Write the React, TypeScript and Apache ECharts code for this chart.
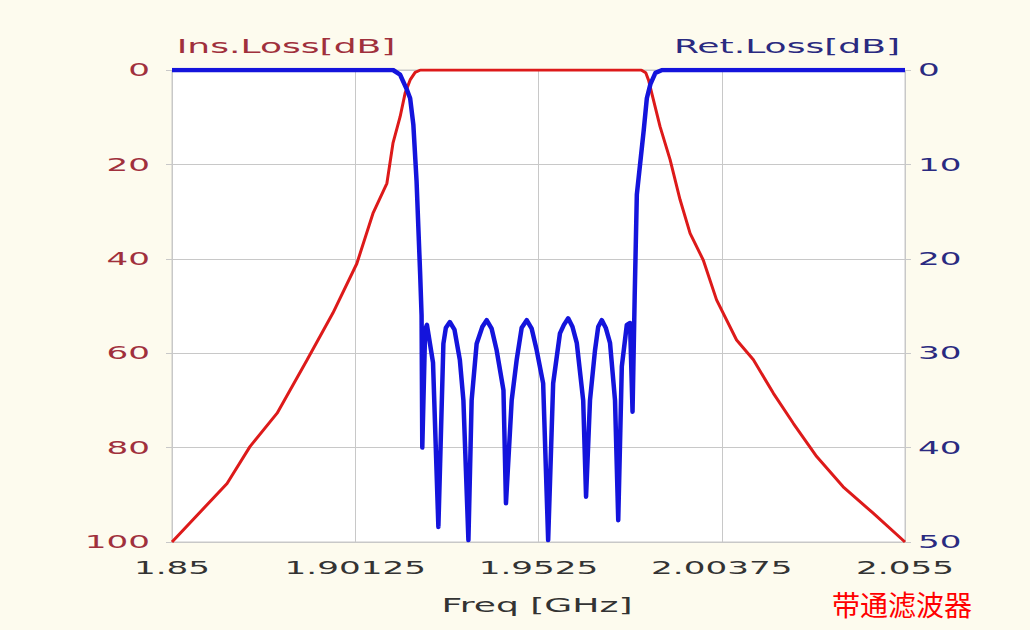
import React, { useEffect, useRef } from "react";
import * as echarts from "echarts";

// Axis ticks
const FREQ_TICKS = [1.85, 1.90125, 1.9525, 2.00375, 2.055];
const FREQ_TICK_LABELS = ["1.85", "1.90125", "1.9525", "2.00375", "2.055"];
const INS_TICKS = [0, 20, 40, 60, 80, 100];
const RET_TICKS = [0, 10, 20, 30, 40, 50];

// Insertion loss (left axis, dB)
const insFreq = [
  1.85, 1.8654, 1.8718, 1.8794, 1.8878, 1.895, 1.9017, 1.9062, 1.9101, 1.9118,
  1.9138, 1.9152, 1.9166, 1.918, 1.9195, 1.9812, 1.9825, 1.9833, 1.9844, 1.9865,
  1.9893, 1.9921, 1.9949, 1.9986, 2.0023, 2.0079, 2.0126, 2.0182, 2.0238, 2.0303,
  2.0377, 2.0461, 2.055,
];
const insLoss = [
  100, 87.6, 79.8, 72.7, 61.4, 51.5, 41.0, 30.4, 24.0, 15.5,
  9.9, 4.9, 2.1, 0.5, 0, 0, 0.6, 2.2, 5.6, 12,
  19, 27.5, 34.6, 40.3, 48.7, 57.2, 61.4, 68.5, 74.9, 81.9,
  88.3, 93.9, 100,
];

// Return loss (right axis, dB)
const retFreq = [
  1.85, 1.9118, 1.9138, 1.9156, 1.9166, 1.9175, 1.9184, 1.9194, 1.9198, 1.92,
  1.9208, 1.9213, 1.923, 1.9245, 1.9259, 1.9266, 1.9277, 1.929, 1.9305, 1.9315,
  1.9329, 1.9338, 1.9352, 1.9368, 1.938, 1.9394, 1.9408, 1.9427, 1.9434, 1.945,
  1.9464, 1.9478, 1.9492, 1.9506, 1.952, 1.9538, 1.9552, 1.9566, 1.9585, 1.9596,
  1.9608, 1.962, 1.9632, 1.965, 1.9658, 1.9669, 1.9683, 1.9692, 1.9702, 1.9713,
  1.9725, 1.9739, 1.9748, 1.9758, 1.9772, 1.9781, 1.9788, 1.9794, 1.98, 1.9809,
  1.9819, 1.9828, 1.9838, 1.9852, 1.9871, 2.055,
];
const retLoss = [
  0, 0, 0.5, 2, 3, 5.8, 11.8, 21.6, 26, 40,
  27.5, 27, 31, 48.4, 29, 27.3, 26.7, 27.5, 30.7, 35,
  49.8, 35, 29, 27.2, 26.5, 27.4, 29.7, 33.9, 45.9, 35,
  30.7, 27.3, 26.5, 27.4, 29.7, 33.2, 49.8, 33.2, 27.9, 27.0,
  26.3, 27.2, 28.9, 35, 45.2, 35, 29.7, 27.2, 26.5, 27.3,
  28.9, 35, 47.7, 31.4, 27, 26.8, 36.2, 24, 13.2, 10,
  6.5, 3, 1.5, 0.3, 0, 0,
];

const INS_COLOR = "#a0303c";
const RET_COLOR = "#2a2a80";
const GRID_COLOR = "#c8c8c8";
const FONT = "DejaVu Sans";

export default function App() {
  const ref = useRef<HTMLDivElement>(null);

  useEffect(() => {
    if (!ref.current) return;
    const chart = echarts.init(ref.current, null, { renderer: "svg" });
    const option: any = {
      animation: false,
      backgroundColor: "#fdfbee",
      grid: {
        left: 172,
        right: 125,
        top: 70,
        bottom: 88,
        show: true,
        backgroundColor: "#ffffff",
        borderColor: GRID_COLOR,
        borderWidth: 1,
      },
      xAxis: {
        type: "value",
        min: 1.85,
        max: 2.055,
        axisLine: { show: false },
        axisTick: {
          show: true,
          length: 6,
          customValues: FREQ_TICKS,
          lineStyle: { color: GRID_COLOR },
        },
        axisLabel: { show: false, customValues: FREQ_TICKS },
        splitLine: { show: true, lineStyle: { color: GRID_COLOR, width: 1 } },
      },
      yAxis: [
        {
          type: "value",
          min: 0,
          max: 100,
          interval: 20,
          inverse: true,
          position: "left",
          axisLine: { show: false },
          axisTick: { show: true, length: 6, lineStyle: { color: GRID_COLOR } },
          axisLabel: { show: false },
          splitLine: { show: true, lineStyle: { color: GRID_COLOR, width: 1 } },
        },
        {
          type: "value",
          min: 0,
          max: 50,
          interval: 10,
          inverse: true,
          position: "right",
          axisLine: { show: false },
          axisTick: { show: true, length: 6, lineStyle: { color: GRID_COLOR } },
          axisLabel: { show: false },
          splitLine: { show: false },
        },
      ],
      series: [
        {
          name: "Ins.Loss",
          type: "line",
          yAxisIndex: 0,
          showSymbol: false,
          symbol: "none",
          z: 2,
          lineStyle: { color: "#dd1a1a", width: 3 },
          data: insFreq.map((f, i) => [f, insLoss[i]]),
        },
        {
          name: "Ret.Loss",
          type: "line",
          yAxisIndex: 1,
          showSymbol: false,
          symbol: "none",
          z: 3,
          lineStyle: { color: "#1414dc", width: 4.5, join: "round" },
          data: retFreq.map((f, i) => [f, retLoss[i]]),
        },
      ],
    };
    chart.setOption(option);

    const SX = 1.9;
    const g: any[] = [];
    const plotBottom = chart.convertToPixel({ yAxisIndex: 0 }, 100) as number;
    const plotLeft = chart.convertToPixel({ xAxisIndex: 0 }, 1.85) as number;
    const plotRight = chart.convertToPixel({ xAxisIndex: 0 }, 2.055) as number;

    FREQ_TICKS.forEach((v, i) => {
      const px = chart.convertToPixel({ xAxisIndex: 0 }, v) as number;
      g.push({
        type: "text",
        x: px,
        y: plotBottom + 26,
        scaleX: SX,
        style: {
          text: FREQ_TICK_LABELS[i],
          fill: "#333333",
          fontSize: 18,
          fontFamily: FONT,
          align: "center",
          verticalAlign: "middle",
        },
      });
    });
    INS_TICKS.forEach((v) => {
      const py = chart.convertToPixel({ yAxisIndex: 0 }, v) as number;
      g.push({
        type: "text",
        x: plotLeft - 22,
        y: py,
        scaleX: SX,
        style: {
          text: String(v),
          fill: INS_COLOR,
          fontSize: 18,
          fontFamily: FONT,
          align: "right",
          verticalAlign: "middle",
        },
      });
    });
    RET_TICKS.forEach((v) => {
      const py = chart.convertToPixel({ yAxisIndex: 1 }, v) as number;
      g.push({
        type: "text",
        x: plotRight + 13,
        y: py,
        scaleX: SX,
        style: {
          text: String(v),
          fill: RET_COLOR,
          fontSize: 18,
          fontFamily: FONT,
          align: "left",
          verticalAlign: "middle",
        },
      });
    });
    g.push({
      type: "text",
      x: 286,
      y: 46,
      scaleX: SX,
      style: {
        text: "Ins.Loss[dB]",
        fill: INS_COLOR,
        fontSize: 19,
        fontFamily: FONT,
        align: "center",
        verticalAlign: "middle",
      },
    });
    g.push({
      type: "text",
      x: 787,
      y: 46,
      scaleX: SX,
      style: {
        text: "Ret.Loss[dB]",
        fill: RET_COLOR,
        fontSize: 19,
        fontFamily: FONT,
        align: "center",
        verticalAlign: "middle",
      },
    });
    g.push({
      type: "text",
      x: 537,
      y: 605,
      scaleX: SX,
      style: {
        text: "Freq [GHz]",
        fill: "#333333",
        fontSize: 19,
        fontFamily: FONT,
        align: "center",
        verticalAlign: "middle",
      },
    });
    g.push({
      type: "text",
      x: 832,
      y: 604,
      style: {
        text: "带通滤波器",
        fill: "#ff0000",
        fontSize: 28,
        fontFamily: "Noto Sans CJK SC",
        align: "left",
        verticalAlign: "middle",
      },
    });
    chart.setOption({ graphic: g });

    return () => chart.dispose();
  }, []);

  return (
    <div
      ref={ref}
      style={{ position: "absolute", left: 0, top: 0, width: 1030, height: 630 }}
    />
  );
}
